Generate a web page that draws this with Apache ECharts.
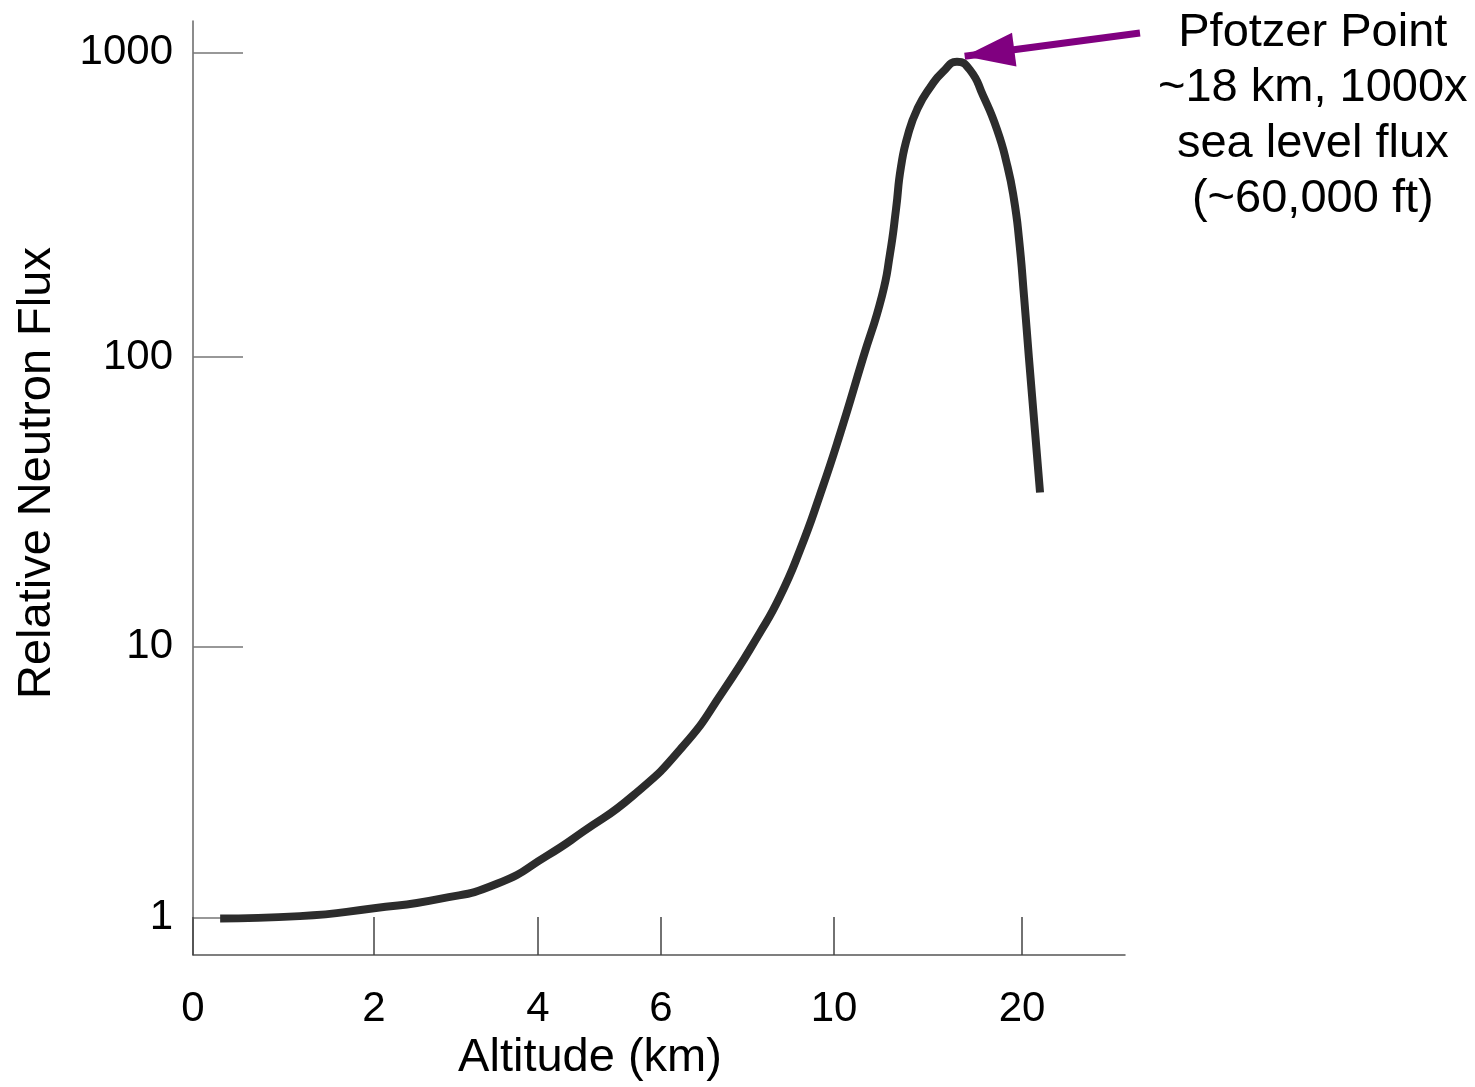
<!DOCTYPE html>
<html>
<head>
<meta charset="utf-8">
<script src="https://cdn.jsdelivr.net/npm/echarts@6/dist/echarts.min.js"></script>
<style>
  html, body { margin: 0; padding: 0; background: #ffffff; }
  #chart { width: 1475px; height: 1087px; }
</style>
</head>
<body>
<div id="chart"></div>
<script>
// ---------------- data ----------------
const altitudeKm = [0.30, 1.18, 2.00, 2.80, 3.50, 4.15, 4.73, 5.54, 6.51, 7.43, 8.29, 8.75, 9.21, 9.68,
                    10.32, 11.54, 12.55, 12.98, 13.30, 13.56, 13.94, 14.47, 15.11, 15.80, 16.54,
                    17.23, 17.93, 18.67, 19.20, 19.57, 19.84, 20.11, 20.37, 20.69, 20.96];
const relativeFlux = [0.99, 1.01, 1.08, 1.17, 1.33, 1.69, 2.07, 2.81, 4.29, 6.83, 11.2, 14.9, 21.5, 33.6,
                      54.3, 99.2, 159, 219, 307, 421, 540, 661, 769, 867, 934,
                      879, 723, 560, 430, 331, 245, 158, 99.2, 55.7, 34.1];
const xTickLabels = [0, 2, 4, 6, 10, 20];
const yTickLabels = [1, 10, 100, 1000];
const annotationLines = ['Pfotzer Point', '~18 km, 1000x', 'sea level flux', '(~60,000 ft)'];
const arrowTip = { altitude: 16.95, flux: 975 };

// ---------------- the figure's own (uneven) axis scales ----------------
// axis units along each axis at which the printed tick labels sit
const xScale = { ticks: xTickLabels, place: [0, 181, 345, 468, 641, 829], end: 932, f: v => v };
const yScale = { ticks: yTickLabels, place: [38, 310, 601, 907], end: 939, f: v => Math.log10(v) };

function warp(scale, v) {
  const t = scale.ticks.map(scale.f), p = scale.place, u = scale.f(v);
  let i = 0;
  while (i < t.length - 2 && u > t[i + 1]) i++;
  return p[i] + (u - t[i]) * (p[i + 1] - p[i]) / (t[i + 1] - t[i]);
}
function labelAt(scale, v) {
  const k = scale.place.findIndex(p => Math.abs(p - v) < 0.5);
  return k < 0 ? '' : String(scale.ticks[k]);
}

const curve = altitudeKm.map((a, i) => [warp(xScale, a), warp(yScale, relativeFlux[i])]);

const FONT = 'Liberation Sans, Arial, Helvetica, sans-serif';

const chart = echarts.init(document.getElementById('chart'), null, { renderer: 'canvas' });
chart.setOption({
  animation: false,
  backgroundColor: '#ffffff',
  grid: { left: 193, right: 350, top: 21, bottom: 127, containLabel: false },
  xAxis: {
    type: 'value', min: 0, max: xScale.end,
    name: 'Altitude (km)', nameLocation: 'middle', nameGap: 79,
    nameTextStyle: { fontFamily: FONT, fontSize: 47, color: '#000', padding: [0, 138, 0, 0] },
    axisLine: { show: true, lineStyle: { color: '#555', width: 1.5 } },
    axisTick: { show: true, inside: true, length: 38, customValues: xScale.place,
                lineStyle: { color: '#444', width: 1.5 } },
    axisLabel: { customValues: xScale.place, margin: 33, fontFamily: FONT, fontSize: 42, color: '#000',
                 formatter: v => labelAt(xScale, v) },
    splitLine: { show: false }
  },
  yAxis: {
    type: 'value', min: 0, max: yScale.end,
    name: 'Relative Neutron Flux', nameLocation: 'middle', nameGap: 132, nameRotate: 90,
    nameTextStyle: { fontFamily: FONT, fontSize: 47, color: '#000', padding: [0, 0, 0, 30] },
    axisLine: { show: true, lineStyle: { color: '#666', width: 1.5 } },
    axisTick: { show: true, inside: true, length: 50, customValues: yScale.place,
                lineStyle: { color: '#777', width: 1.5 } },
    axisLabel: { customValues: yScale.place, margin: 20, fontFamily: FONT, fontSize: 42, color: '#000',
                 formatter: v => labelAt(yScale, v) },
    splitLine: { show: false }
  },
  series: [{
    type: 'line',
    data: curve,
    smooth: 0.55,
    showSymbol: false,
    clip: false,
    lineStyle: { color: '#2c2c2c', width: 8, cap: 'butt', join: 'round' },
    markLine: {
      silent: true,
      symbol: ['none', 'triangle'],
      symbolSize: [34, 50],
      symbolOffset: [0, [0, 25]],
      lineStyle: { color: '#800080', width: 7, type: 'solid' },
      itemStyle: { color: '#800080' },
      label: { show: false },
      emphasis: { disabled: true },
      data: [[
        { x: 1140, y: 33 },
        { coord: [warp(xScale, arrowTip.altitude), warp(yScale, arrowTip.flux)] }
      ]]
    }
  }],
  graphic: [{
    type: 'text',
    left: 1308 - 150, top: 5,
    style: {
      text: annotationLines.join('\n'),
      x: 150, y: 0,
      width: 300,
      textAlign: 'center',
      fontFamily: FONT, fontSize: 47, lineHeight: 55.5, fill: '#000'
    }
  }]
});
</script>
</body>
</html>
